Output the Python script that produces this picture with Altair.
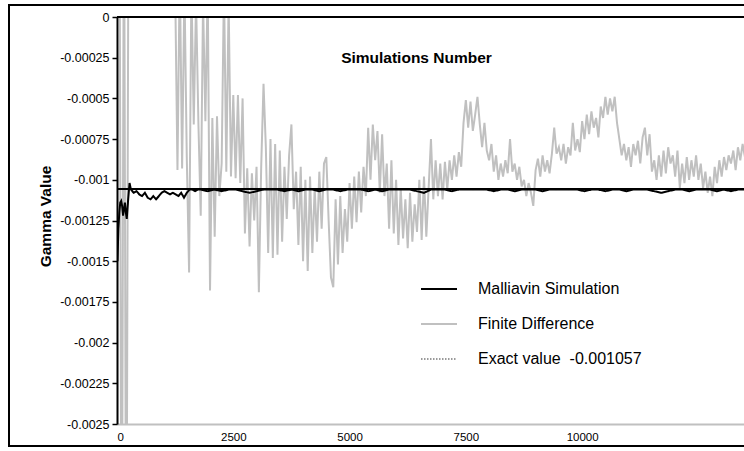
import altair as alt
import pandas as pd

SERIES = ["Malliavin Simulation", "Finite Difference", "Exact value\u00a0 -0.001057"]
EXACT = -0.001057

# Finite-difference gamma estimate, one value every 50 simulations
fd_sims = list(range(50, 13501, 50))
fd_gamma = [
    0.0012, -0.0040, 0.0010, -0.0040, 0.0010,
    0.0008, 0.0012, 0.0005, 0.0010, 0.0006, 0.0011, 0.0004, 0.0009, 0.0007, 0.0010,
    0.0003, 0.0006, 0.0002, 0.0005, 0.0001, 0.0004, 0.0002, 0.0003, 0.0001, 0.0002,
    -0.00094, 0.0003, -0.00093, 0.0002, -0.00086, -0.00157, 0.0002, -0.00066, 0.0001, -0.00065,
    -0.00122, 0.0001, -0.00064, 0.0002, -0.00168, -0.00062, -0.00135, -0.00061, -0.00110, -0.00090,
    0.0002, -0.00095, 0.0001, -0.00098, -0.00048, -0.00099, -0.00048, -0.00102, -0.00050, -0.00133,
    -0.00093, -0.00141, -0.00096, -0.00125, -0.00092, -0.00169, -0.00092, -0.00041, -0.00080, -0.00145,
    -0.00075, -0.00148, -0.00078, -0.00146, -0.00082, -0.00138, -0.00092, -0.00124, -0.00085, -0.00066,
    -0.00118, -0.00095, -0.00140, -0.00092, -0.00150, -0.00100, -0.00156, -0.00098, -0.00145, -0.00105,
    -0.00138, -0.00095, -0.00130, -0.00090, -0.00086, -0.00125, -0.00160, -0.00166, -0.00112, -0.00152,
    -0.00110, -0.00145, -0.00118, -0.00138, -0.00102, -0.00130, -0.00098, -0.00126, -0.00095, -0.00120,
    -0.00092, -0.00110, -0.00068, -0.00100, -0.00066, -0.00088, -0.00070, -0.00108, -0.00072, -0.00110,
    -0.00090, -0.00130, -0.00088, -0.00133, -0.00100, -0.00140, -0.00105, -0.00136, -0.00112, -0.00142,
    -0.00108, -0.00138, -0.00115, -0.00132, -0.00100, -0.00137, -0.00098, -0.00135, -0.00105, -0.00075,
    -0.00112, -0.00088, -0.00110, -0.00090, -0.00112, -0.00089, -0.00106, -0.00088, -0.00100, -0.00085,
    -0.00098, -0.00083, -0.00092, -0.00065, -0.00051, -0.00068, -0.00052, -0.00070, -0.00060, -0.00049,
    -0.00066, -0.00080, -0.00065, -0.00082, -0.00088, -0.00078, -0.00095, -0.00085, -0.00100, -0.00090,
    -0.00098, -0.00088, -0.00096, -0.00075, -0.00095, -0.00090, -0.00100, -0.00092, -0.00104, -0.00100,
    -0.00110, -0.00102, -0.00108, -0.00116, -0.00094, -0.00087, -0.00098, -0.00085, -0.00095, -0.00088,
    -0.00096, -0.00084, -0.00068, -0.00084, -0.00080, -0.00088, -0.00078, -0.00090, -0.00080, -0.00085,
    -0.00065, -0.00082, -0.00075, -0.00083, -0.00064, -0.00075, -0.00060, -0.00072, -0.00058, -0.00068,
    -0.00062, -0.00074, -0.00055, -0.00062, -0.00049, -0.00060, -0.00050, -0.00058, -0.00049, -0.00065,
    -0.00075, -0.00085, -0.00078, -0.00088, -0.00080, -0.00092, -0.00078, -0.00085, -0.00076, -0.00090,
    -0.00074, -0.00068, -0.00085, -0.00072, -0.00095, -0.00088, -0.00100, -0.00085, -0.00098, -0.00082,
    -0.00096, -0.00080, -0.00090, -0.00085, -0.00098, -0.00082, -0.00105, -0.00090, -0.00102, -0.00086,
    -0.00100, -0.00088, -0.00098, -0.00085, -0.00100, -0.00090, -0.00105, -0.00095, -0.00108, -0.00098,
    -0.00110, -0.00092, -0.00102, -0.00088, -0.00098, -0.00086, -0.00094, -0.00085, -0.00090, -0.00082,
    -0.00094, -0.00080, -0.00088, -0.00078, -0.00086,
]

# Malliavin estimate: dense at the start, sparser once it has settled
mall_sims = (
    [10, 30, 50, 70, 90, 110, 130, 150, 170, 190, 210, 240, 270]
    + list(range(300, 1800, 60))
    + list(range(1800, 13501, 150))
)
mall_gamma = [
    -0.00150, -0.00130, -0.00120, -0.00114, -0.00113, -0.00116, -0.00122, -0.00118, -0.00114, -0.00120,
    -0.00124, -0.00112, -0.00102,
    -0.00106, -0.00108, -0.00107, -0.00109, -0.00110, -0.00108, -0.00111, -0.00112, -0.00110, -0.00112,
    -0.00110, -0.00108, -0.00107, -0.00108, -0.00109, -0.00108, -0.00109, -0.00110, -0.00108, -0.00111,
    -0.00108, -0.00106, -0.00106, -0.00107, -0.00106,
    -0.00106, -0.00107, -0.00106, -0.00107, -0.00106, -0.00106, -0.00107, -0.00108, -0.00107, -0.00106,
    -0.00106, -0.00106, -0.00107, -0.00106, -0.00107, -0.00106, -0.00106, -0.00107, -0.00106, -0.00106,
    -0.00107, -0.00106, -0.00106, -0.00106, -0.00107, -0.00106, -0.00107, -0.00106, -0.00106, -0.00106,
    -0.00106, -0.00107, -0.00108, -0.00106, -0.00106, -0.00106, -0.00107, -0.00106, -0.00106, -0.00106,
    -0.00106, -0.00106, -0.00107, -0.00106, -0.00106, -0.00107, -0.00106, -0.00106, -0.00106, -0.00107,
    -0.00106, -0.00106, -0.00106, -0.00106, -0.00106, -0.00107, -0.00106, -0.00106, -0.00107, -0.00106,
    -0.00106, -0.00107, -0.00106, -0.00106, -0.00106, -0.00107, -0.00108, -0.00107, -0.00106, -0.00106,
    -0.00107, -0.00106, -0.00106, -0.00106, -0.00107, -0.00106, -0.00107, -0.00106, -0.00106,
]

x_ticks = [0, 2500, 5000, 7500, 10000]
y_ticks = [0, -0.00025, -0.0005, -0.00075, -0.001, -0.00125, -0.0015,
           -0.00175, -0.002, -0.00225, -0.0025]

assert len(fd_sims) == len(fd_gamma)
assert len(mall_sims) == len(mall_gamma)

fd_df = pd.DataFrame({"sims": fd_sims, "gamma": fd_gamma, "series": SERIES[1]})
mall_df = pd.DataFrame({"sims": mall_sims, "gamma": mall_gamma, "series": SERIES[0]})

PLOT_W, PLOT_H = 627, 407

x_enc = alt.X(
    "sims:Q",
    scale=alt.Scale(domain=[0, 13480], nice=False, zero=False),
    axis=alt.Axis(
        values=x_ticks, format="d", ticks=False, grid=False,
        domainColor="#c0c0c0", domainWidth=2, labelPadding=7,
        labelFontSize=11.5, labelColor="black",
        title="Simulations Number", titleFontSize=15.5, titleFontWeight="bold",
        titleX=299, titleY=-367, titleBaseline="middle", titleAlign="center",
    ),
)
y_enc = alt.Y(
    "gamma:Q",
    scale=alt.Scale(domain=[-0.0025, 0], nice=False, zero=False),
    axis=alt.Axis(
        values=y_ticks, grid=False,
        labelExpr="datum.value == 0 ? '0' : '' + datum.value",
        domainColor="black", domainWidth=2, tickColor="black", tickSize=5,
        tickWidth=1.5, labelPadding=3, labelFontSize=12.5, labelColor="black",
        title="Gamma Value", titleFontSize=15.5, titleFontWeight="bold",
        titleAngle=270, titleX=-72, titleY=199, titleAlign="center",
        titleBaseline="middle",
    ),
)

color = alt.Color(
    "series:N",
    scale=alt.Scale(domain=SERIES, range=["black", "#c0c0c0", "#9a9a9a"]),
    legend=alt.Legend(
        title=None, orient="none", legendX=303, legendY=253,
        symbolType="stroke", symbolSize=1296, labelFontSize=16,
        labelOffset=20, rowPadding=8, labelColor="black", labelLimit=400,
    ),
)
dash = alt.StrokeDash(
    "series:N",
    scale=alt.Scale(domain=SERIES, range=[[1, 0], [1, 0], [1.5, 1.5]]),
)
width = alt.StrokeWidth(
    "series:N",
    scale=alt.Scale(domain=SERIES, range=[2, 2, 1]),
)

fd_line = alt.Chart(fd_df).mark_line(clip=True).encode(
    x=x_enc, y=y_enc, color=color, strokeDash=dash, strokeWidth=width
)
mall_line = alt.Chart(mall_df).mark_line(clip=True).encode(
    x=x_enc, y=y_enc, color=color, strokeDash=dash, strokeWidth=width
)

one = pd.DataFrame({"k": [0]})
top_rule = alt.Chart(one).mark_rule(color="black", strokeWidth=2).encode(
    y=alt.datum(0)
)
exact_rule = alt.Chart(one).mark_rule(color="black", strokeWidth=2).encode(
    y=alt.datum(EXACT)
)
frame = alt.Chart(one).mark_rect(
    fillOpacity=0, stroke="black", strokeWidth=2, clip=False
).encode(
    x=alt.value(-108), x2=alt.value(700), y=alt.value(-12), y2=alt.value(429)
)

chart = alt.layer(frame, fd_line, mall_line, top_rule, exact_rule).properties(
    width=PLOT_W,
    height=PLOT_H,
    autosize=alt.AutoSizeParams(type="none"),
    padding={"left": 117, "top": 17, "right": 0, "bottom": 27},
    background="white",
).configure(font="Liberation Sans").configure_view(stroke="transparent")

chart.save("out.html", embed_options={"renderer": "svg", "actions": False})
